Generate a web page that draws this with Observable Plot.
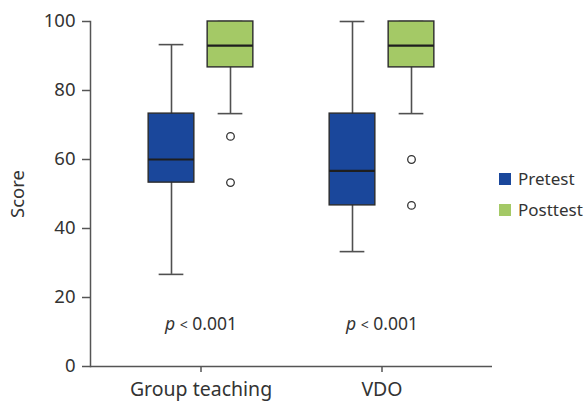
<!DOCTYPE html>
<html>
<head>
<meta charset="utf-8">
<script src="https://cdn.jsdelivr.net/npm/d3@7"></script>
<script src="https://cdn.jsdelivr.net/npm/@observablehq/plot@0.6"></script>
<style>
  body { margin: 0; background: #fff; }
  #wrap { position: relative; width: 585px; height: 405px; font-family: "Noto Sans", sans-serif; overflow: hidden; }
  #legend { position: absolute; left: 499px; top: 163px; color: #333; font-size: 17px; white-space: nowrap; }
  .sw { display: flex; align-items: center; height: 31px; }
  .sw span.box { width: 12px; height: 12px; margin-right: 7px; display: inline-block; flex: none; }
</style>
</head>
<body>
<div id="wrap"></div>
<script>
// ---- data ----
const groups = ["Group teaching", "VDO"];
const tests = ["Pretest", "Posttest"];
const testColors = ["#1a479b", "#a4c966"];

const boxGroup = ["Group teaching", "Group teaching", "VDO", "VDO"];
const boxTest = ["Pretest", "Posttest", "Pretest", "Posttest"];
const whiskerLow = [26.7, 73.3, 33.3, 73.3];
const q1 = [53.3, 86.7, 46.7, 86.7];
const median = [60, 93, 56.7, 93];
const q3 = [73.3, 100, 73.3, 100];
const whiskerHigh = [93.3, 100, 100, 100];

const outlierGroup = ["Group teaching", "Group teaching", "VDO", "VDO"];
const outlierTest = ["Posttest", "Posttest", "Posttest", "Posttest"];
const outlierValue = [66.7, 53.3, 60, 46.7];

const pGroup = ["Group teaching", "VDO"];
const pLabel = ["p < 0.001", "p < 0.001"];

const yTicks = [0, 20, 40, 60, 80, 100];

// ---- tables ----
const boxes = boxGroup.map((g, i) => ({group: g, test: boxTest[i], lo: whiskerLow[i], q1: q1[i], med: median[i], q3: q3[i], hi: whiskerHigh[i]}));
const outliers = outlierGroup.map((g, i) => ({group: g, test: outlierTest[i], value: outlierValue[i]}));
const pvals = pGroup.map((g, i) => ({group: g, label: pLabel[i]}));

// layout per test (styling offsets only)
const offset = {Pretest: -29.5, Posttest: 29.5};
const BW = 163.3; // approximate band width for inset calculations
const boxInset = (BW - 46) / 2;
const capInset = (BW - 25) / 2;

const marks = [];
tests.forEach((t, ti) => {
  const b = boxes.filter(d => d.test === t);
  const o = outliers.filter(d => d.test === t);
  marks.push(
    Plot.ruleX(b, {x: "group", y1: "lo", y2: "hi", dx: offset[t], stroke: "#505050", strokeWidth: 1.6}),
    Plot.tickY(b, {x: "group", y: "lo", dx: offset[t], inset: capInset, stroke: "#505050", strokeWidth: 1.6}),
    Plot.tickY(b, {x: "group", y: "hi", dx: offset[t], inset: capInset, stroke: "#505050", strokeWidth: 1.6}),
    Plot.barY(b, {x: "group", y1: "q1", y2: "q3", dx: offset[t], insetLeft: boxInset, insetRight: boxInset, fill: testColors[ti], stroke: "#2b2b2b", strokeWidth: 1.4}),
    Plot.tickY(b, {x: "group", y: "med", dx: offset[t], inset: boxInset, stroke: "#1e1e1e", strokeWidth: 2.2}),
    Plot.dot(o, {x: "group", y: "value", dx: offset[t], r: 3.8, fill: "white", stroke: "#333", strokeWidth: 1.3})
  );
});

const chart = Plot.plot({
  width: 585,
  height: 405,
  marginLeft: 90,
  marginRight: 93,
  marginTop: 21,
  marginBottom: 39,
  style: {fontFamily: "Noto Sans, sans-serif", fontSize: "17px", color: "#333", background: "white", overflow: "visible"},
  x: {domain: groups, paddingInner: 0.1, paddingOuter: 0.158},
  y: {domain: [0, 100]},
  marks: [
    Plot.ruleY([0], {stroke: "#555", strokeWidth: 1.5}),
    Plot.frame({anchor: "left", stroke: "#555", strokeWidth: 1.5}),
    Plot.axisY({ticks: yTicks, tickSize: 8, tickPadding: 7, fontSize: 18.5, label: "Score", labelAnchor: "center", labelArrow: "none", labelOffset: 80, stroke: "#555", strokeWidth: 1.5, fill: "#333"}),
    Plot.axisX({tickSize: 6, tickPadding: 10, fontSize: 19.5, label: null, stroke: "#555", strokeWidth: 1.5, fill: "#333"}),
    ...marks,
    Plot.text(pvals, {x: "group", text: "label", frameAnchor: "bottom", dy: -37, fontSize: 17.5, fill: "#333", className: "plabel"})
  ]
});

document.getElementById("wrap").appendChild(chart);

// italic "p" in p-value labels
d3.select(chart).selectAll(".plabel text").each(function() {
  const s = this.textContent;
  const rest = s.slice(1);
  const sel = d3.select(this);
  sel.text(null);
  sel.append("tspan").attr("font-style", "italic").text(s[0]);
  const m = rest.match(/^(\s*)(<)(\s*)(.*)$/);
  if (m) {
    sel.append("tspan").text(m[1]);
    sel.append("tspan").attr("font-size", "14").text(m[2]);
    sel.append("tspan").text(m[3] + m[4]);
  } else {
    sel.append("tspan").text(rest);
  }
});

// legend
const legend = d3.select("#wrap").append("div").attr("id", "legend");
tests.forEach((t, i) => {
  const row = legend.append("div").attr("class", "sw");
  row.append("span").attr("class", "box").style("background", testColors[i]);
  row.append("span").text(t);
});
</script>
</body>
</html>
